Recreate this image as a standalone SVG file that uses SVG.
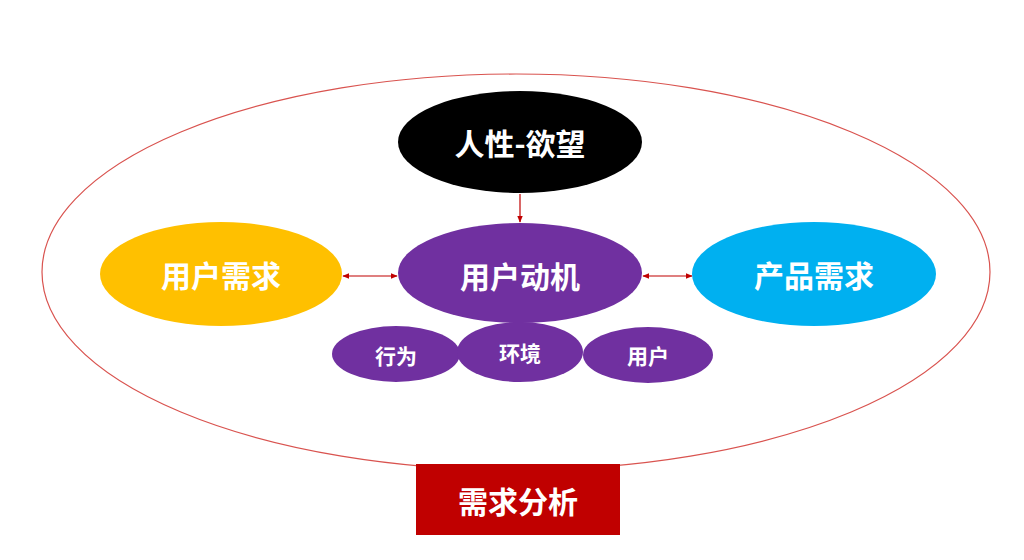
<svg xmlns="http://www.w3.org/2000/svg" width="1024" height="560" viewBox="0 0 1024 560">
<defs>
<style>
.t{font-family:"Noto Sans CJK SC","Noto Sans",sans-serif;font-weight:bold;fill:#fff;text-anchor:middle;dominant-baseline:central}
.big{font-size:30px}
.sm{font-size:21px}
.c{stroke:#C00000;stroke-width:1.2;fill:none}
</style>
<marker id="ah" viewBox="0 0 10 10" refX="9" refY="5" markerWidth="7" markerHeight="7" orient="auto-start-reverse" markerUnits="userSpaceOnUse">
<path d="M0,1 L10,5 L0,9 z" fill="#C00000"/>
</marker>
</defs>
<rect width="1024" height="560" fill="#fff"/>
<g id="frame">
<ellipse cx="516" cy="272" rx="474" ry="198" fill="none" stroke="#D9534F" stroke-width="1.2"/>
</g>
<g id="connectors">
<line class="c" x1="520" y1="194" x2="520" y2="222" marker-end="url(#ah)"/>
<line class="c" x1="343" y1="276" x2="397" y2="276" marker-start="url(#ah)" marker-end="url(#ah)"/>
<line class="c" x1="643" y1="276" x2="692" y2="276" marker-start="url(#ah)" marker-end="url(#ah)"/>
</g>
<g id="renxing">
<ellipse cx="520" cy="142" rx="122" ry="51" fill="#000"/>
<text class="t big" x="520" y="142">人性-欲望</text>
</g>
<g id="yonghuxuqiu">
<ellipse cx="221" cy="274" rx="121" ry="52" fill="#FFC000"/>
<text class="t big" x="221" y="274">用户需求</text>
</g>
<g id="chanpinxuqiu">
<ellipse cx="814" cy="274" rx="122" ry="52" fill="#00B0F0"/>
<text class="t big" x="814" y="274">产品需求</text>
</g>
<g id="xingwei">
<ellipse cx="396" cy="354" rx="64" ry="28" fill="#7030A0"/>
<text class="t sm" x="396" y="355">行为</text>
</g>
<g id="yonghu">
<ellipse cx="648" cy="355" rx="65" ry="28" fill="#7030A0"/>
<text class="t sm" x="648" y="355">用户</text>
</g>
<g id="huanjing">
<ellipse cx="520" cy="352" rx="63" ry="30" fill="#7030A0"/>
<text class="t sm" x="520" y="352">环境</text>
</g>
<g id="yonghudongji">
<ellipse cx="520" cy="273" rx="122" ry="50" fill="#7030A0"/>
<text class="t big" x="520" y="275">用户动机</text>
</g>
<g id="xuqiufenxi">
<rect x="416" y="464" width="204" height="71" fill="#C00000"/>
<text class="t big" x="518" y="500">需求分析</text>
</g>
</svg>
